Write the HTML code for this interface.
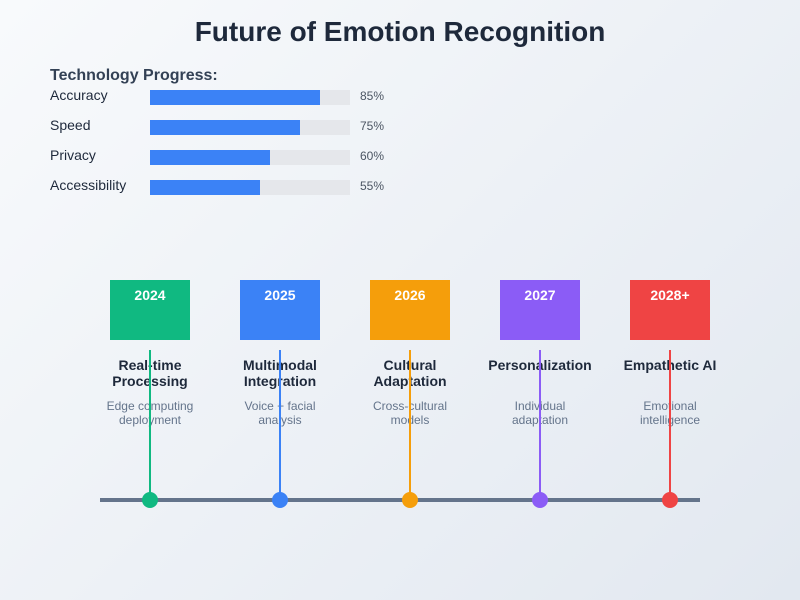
<!DOCTYPE html>
<html><head><meta charset="utf-8"><style>
html,body{margin:0;padding:0;width:800px;height:600px;overflow:hidden}
body{background:linear-gradient(135deg,#f8fafc,#e2e8f0);font-family:"Liberation Sans",sans-serif}
</style></head><body>
<svg width="800" height="600" xmlns="http://www.w3.org/2000/svg" font-family="Liberation Sans, sans-serif">
<text x="400" y="41" text-anchor="middle" font-size="28" font-weight="bold" fill="#1e293b">Future of Emotion Recognition</text>
<text x="50" y="80" font-size="16" font-weight="bold" fill="#334155">Technology Progress:</text>
<g font-size="14" fill="#1e293b">
<text x="50" y="100">Accuracy</text><text x="50" y="130">Speed</text><text x="50" y="160">Privacy</text><text x="50" y="190">Accessibility</text>
</g>
<g fill="#e5e7eb"><rect x="150" y="90" width="200" height="15"/><rect x="150" y="120" width="200" height="15"/><rect x="150" y="150" width="200" height="15"/><rect x="150" y="180" width="200" height="15"/></g>
<g fill="#3b82f6"><rect x="150" y="90" width="170" height="15"/><rect x="150" y="120" width="150" height="15"/><rect x="150" y="150" width="120" height="15"/><rect x="150" y="180" width="110" height="15"/></g>
<g font-size="12" fill="#4b5563"><text x="360" y="100">85%</text><text x="360" y="130">75%</text><text x="360" y="160">60%</text><text x="360" y="190">55%</text></g>
<line x1="100" y1="500" x2="700" y2="500" stroke="#64748b" stroke-width="4"/>
<g font-size="14" font-weight="bold" fill="#fff" text-anchor="middle">
<rect x="110" y="280" width="80" height="60" fill="#10b981"/><text x="150" y="300">2024</text>
<rect x="240" y="280" width="80" height="60" fill="#3b82f6"/><text x="280" y="300">2025</text>
<rect x="370" y="280" width="80" height="60" fill="#f59e0b"/><text x="410" y="300">2026</text>
<rect x="500" y="280" width="80" height="60" fill="#8b5cf6"/><text x="540" y="300">2027</text>
<rect x="630" y="280" width="80" height="60" fill="#ef4444"/><text x="670" y="300">2028+</text>
</g>
<g font-size="14" font-weight="bold" fill="#1e293b" text-anchor="middle">
<text x="150" y="370">Real-time</text><text x="150" y="386">Processing</text>
<text x="280" y="370">Multimodal</text><text x="280" y="386">Integration</text>
<text x="410" y="370">Cultural</text><text x="410" y="386">Adaptation</text>
<text x="540" y="370">Personalization</text>
<text x="670" y="370">Empathetic AI</text>
</g>
<g font-size="12" fill="#64748b" text-anchor="middle">
<text x="150" y="410">Edge computing</text><text x="150" y="424">deployment</text>
<text x="280" y="410">Voice + facial</text><text x="280" y="424">analysis</text>
<text x="410" y="410">Cross-cultural</text><text x="410" y="424">models</text>
<text x="540" y="410">Individual</text><text x="540" y="424">adaptation</text>
<text x="670" y="410">Emotional</text><text x="670" y="424">intelligence</text>
</g>
<g stroke-width="2">
<line x1="150" y1="350" x2="150" y2="500" stroke="#10b981"/>
<line x1="280" y1="350" x2="280" y2="500" stroke="#3b82f6"/>
<line x1="410" y1="350" x2="410" y2="500" stroke="#f59e0b"/>
<line x1="540" y1="350" x2="540" y2="500" stroke="#8b5cf6"/>
<line x1="670" y1="350" x2="670" y2="500" stroke="#ef4444"/>
</g>
<circle cx="150" cy="500" r="8" fill="#10b981"/>
<circle cx="280" cy="500" r="8" fill="#3b82f6"/>
<circle cx="410" cy="500" r="8" fill="#f59e0b"/>
<circle cx="540" cy="500" r="8" fill="#8b5cf6"/>
<circle cx="670" cy="500" r="8" fill="#ef4444"/>
</svg>
</body></html>
